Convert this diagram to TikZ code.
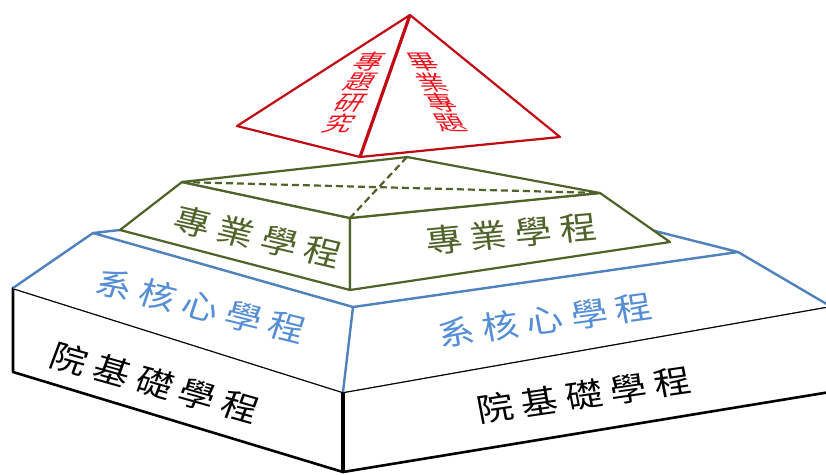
\documentclass[tikz,border=0pt]{standalone}
\usepackage{fontspec}
\newfontfamily\tcwide[LetterSpace=22]{Noto Sans CJK TC}
\newfontfamily\tcfont{Noto Sans CJK TC}
\usetikzlibrary{positioning}
\definecolor{ridgered}{RGB}{192,10,20}
\definecolor{labelred}{RGB}{238,20,30}
\definecolor{majorgreen}{RGB}{79,98,40}
\definecolor{coreblue}{RGB}{79,129,189}
\definecolor{coretext}{RGB}{85,142,213}

\begin{document}
\begin{tikzpicture}[x=1pt,y=-1pt,
    edge/.style={draw=#1,line width=2.2pt,line join=round,fill=white},
    edge/.default=black,
    facelabel/.style={font=\tcwide\fontsize{32}{32}\selectfont,inner sep=0pt,xscale=1.15},
    toplabel/.style={font=\tcfont\fontsize{26}{26}\selectfont,inner sep=0pt,text=labelred,xscale=1.1,yscale=0.8}]
  \useasboundingbox (0,0) rectangle (826,474);
  \clip (0,0) rectangle (826,474);
  % base block
  \coordinate (b-l) at (13,288);
  \coordinate (b-f) at (343,392);
  \coordinate (b-r) at (830,306);
  \coordinate (b-lb) at (13,372);
  \coordinate (b-fb) at (343,472);
  \coordinate (b-rb) at (830,392);
  \draw[edge,line width=2.6pt] (b-l) -- (b-f) -- (b-fb) -- (b-lb) -- cycle;
  \draw[edge,line width=2.6pt] (b-f) -- (b-r) -- (b-rb) -- (b-fb) -- cycle;
  \draw[line width=3.5pt] (b-f) -- (b-fb);
  % core layer
  \coordinate (c-l) at (93,233);
  \coordinate (c-b) at (489,189);
  \coordinate (c-r) at (738,252);
  \coordinate (c-f) at (353,307);
  \fill[white] (c-l) -- (c-f) -- (b-f) -- (b-l) -- cycle;
  \fill[white] (c-f) -- (c-r) -- (b-r) -- (b-f) -- cycle;
  \draw[edge=coreblue,line width=2.4pt] (c-l) -- (c-b) -- (c-r) -- (c-f) -- cycle;
  \draw[edge=coreblue,line width=2.4pt] (c-l) -- (b-l) (c-f) -- (b-f) (c-r) -- (b-r);
  % major layer
  \coordinate (g-l) at (182,182);
  \coordinate (g-b) at (407,157);
  \coordinate (g-r) at (600,193);
  \coordinate (g-f) at (350,218);
  \coordinate (g-lb) at (120,230);
  \coordinate (g-fb) at (350,290);
  \coordinate (g-rb) at (670,242);
  \draw[edge=majorgreen] (g-l) -- (g-f) -- (g-fb) -- (g-lb) -- cycle;
  \draw[edge=majorgreen] (g-f) -- (g-r) -- (g-rb) -- (g-fb) -- cycle;
  \draw[edge=majorgreen] (g-l) -- (g-b) -- (g-r) -- (g-f) -- cycle;
  \draw[majorgreen,line width=2.2pt,dash pattern=on 7pt off 4pt] (g-l) -- (g-r) (g-b) -- (g-f);
  % top pyramid
  \coordinate (p-a) at (410,15);
  \coordinate (p-l) at (237,126);
  \coordinate (p-f) at (360,157);
  \coordinate (p-r) at (560,137);
  \draw[edge=ridgered] (p-a) -- (p-l) -- (p-f) -- (p-r) -- cycle;
  \draw[ridgered,line width=3.2pt] (p-a) -- (p-f);
  % labels
  \node[facelabel,rotate=-18] (base-l) at (155,383) {院基礎學程};
  \node[facelabel,rotate=9.5] (base-r) at (584,395) {院基礎學程};
  \node[facelabel,text=coretext,rotate=-16] (core-l) at (201,306) {系核心學程};
  \node[facelabel,text=coretext,rotate=9] (core-r) at (545,320) {系核心學程};
  \node[facelabel,text=majorgreen,rotate=-15] (major-l) at (258,237) {專業學程};
  \node[facelabel,text=majorgreen,rotate=6] (major-r) at (511,234) {專業學程};
  \foreach \ch [count=\i from 0] in {專,題,研,究}
    \node[toplabel,xslant=0.45] (study-\i) at ({370-10*\i},{62+20.5*\i}) {\ch};
  \foreach \ch [count=\i from 0] in {畢,業,專,題}
    \node[toplabel,xslant=-0.45] (capstone-\i) at ({423+9*\i},{62+20.5*\i}) {\ch};
\end{tikzpicture}
\end{document}
